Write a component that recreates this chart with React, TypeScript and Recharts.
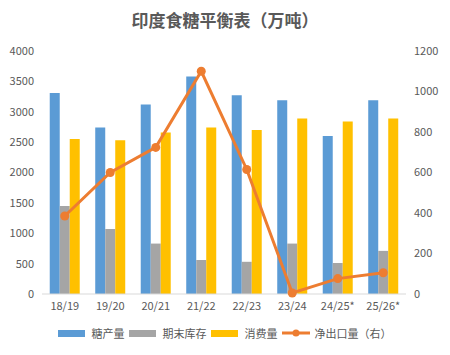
import React from 'react';
import { ComposedChart, Bar, Line, XAxis, YAxis, Legend } from 'recharts';

const seasons = ['18/19', '19/20', '20/21', '21/22', '22/23', '23/24', '24/25*', '25/26*'];
const production = [3310, 2740, 3120, 3580, 3270, 3190, 2600, 3190];
const endingStock = [1450, 1070, 830, 560, 530, 830, 510, 710];
const consumption = [2550, 2530, 2660, 2740, 2700, 2890, 2840, 2890];
const netExport = [385, 600, 724, 1100, 615, 5, 76, 105];
const leftTicks = [0, 500, 1000, 1500, 2000, 2500, 3000, 3500, 4000];
const rightTicks = [0, 200, 400, 600, 800, 1000, 1200];
const seriesOrder = ['糖产量', '期末库存', '消费量', '净出口量（右）'];

const data = seasons.map((s, i) => ({
  season: s,
  production: production[i],
  endingStock: endingStock[i],
  consumption: consumption[i],
  netExport: netExport[i],
}));

const FONT = '"Noto Sans CJK SC", "Noto Sans", sans-serif';
const TXT = '#595959';

const LegendContent = (props: any) => {
  const payload = [...(props.payload || [])].sort(
    (a: any, b: any) => seriesOrder.indexOf(a.value) - seriesOrder.indexOf(b.value)
  );
  return (
    <div style={{ display: 'flex', justifyContent: 'center', alignItems: 'center', fontFamily: FONT, fontSize: 11, color: TXT }}>
      {payload.map((p: any) => (
        <div key={p.value} style={{ display: 'flex', alignItems: 'center', marginRight: 4 }}>
          {p.type === 'line' ? (
            <svg width={28} height={10} style={{ marginRight: 5 }}>
              <line x1={0} y1={5} x2={28} y2={5} stroke={p.color} strokeWidth={3} />
              <circle cx={14} cy={5} r={3.5} fill={p.color} />
            </svg>
          ) : (
            <svg width={27} height={7} style={{ marginRight: 7 }}>
              <rect x={0} y={0} width={27} height={7} fill={p.color} />
            </svg>
          )}
          <span>{p.value}</span>
        </div>
      ))}
    </div>
  );
};

export default function App() {
  return (
    <div style={{ position: 'absolute', left: 0, top: 0, width: 450, height: 355, background: '#fff' }}>
      <div style={{ position: 'absolute', top: 7, left: 0, width: 450, textAlign: 'center', fontFamily: FONT, fontWeight: 'bold', fontSize: 17, color: TXT }}>
        印度食糖平衡表（万吨）
      </div>
      <ComposedChart
        width={450}
        height={355}
        data={data}
        margin={{ top: 51, right: 4, bottom: 15, left: 7 }}
        barGap={0}
        barCategoryGap="17%"
      >
        <XAxis
          dataKey="season"
          tickLine={false}
          axisLine={{ stroke: '#d9d9d9' }}
          tick={{ fill: TXT, fontSize: 11, fontFamily: FONT }}
          height={30}
          interval={0}
        />
        <YAxis
          yAxisId="left"
          domain={[0, 4000]}
          ticks={leftTicks}
          tickLine={false}
          axisLine={false}
          width={35}
          tick={{ fill: TXT, fontSize: 11, fontFamily: FONT }}
          interval={0}
        />
        <YAxis
          yAxisId="right"
          orientation="right"
          domain={[0, 1200]}
          ticks={rightTicks}
          tickLine={false}
          axisLine={false}
          width={40}
          tick={{ fill: TXT, fontSize: 11, fontFamily: FONT, textAnchor: 'start' }}
          interval={0}
        />
        <Legend verticalAlign="bottom" content={<LegendContent />} wrapperStyle={{ bottom: 14 }} />
        <Bar yAxisId="left" dataKey="production" name="糖产量" fill="#5B9BD5" isAnimationActive={false} />
        <Bar yAxisId="left" dataKey="endingStock" name="期末库存" fill="#A5A5A5" isAnimationActive={false} />
        <Bar yAxisId="left" dataKey="consumption" name="消费量" fill="#FFC000" isAnimationActive={false} />
        <Line
          yAxisId="right"
          dataKey="netExport"
          name="净出口量（右）"
          stroke="#ED7D31"
          strokeWidth={3}
          dot={{ r: 4.5, fill: '#ED7D31', stroke: '#ED7D31', strokeWidth: 0 }}
          legendType="line"
          isAnimationActive={false}
        />
      </ComposedChart>
    </div>
  );
}
